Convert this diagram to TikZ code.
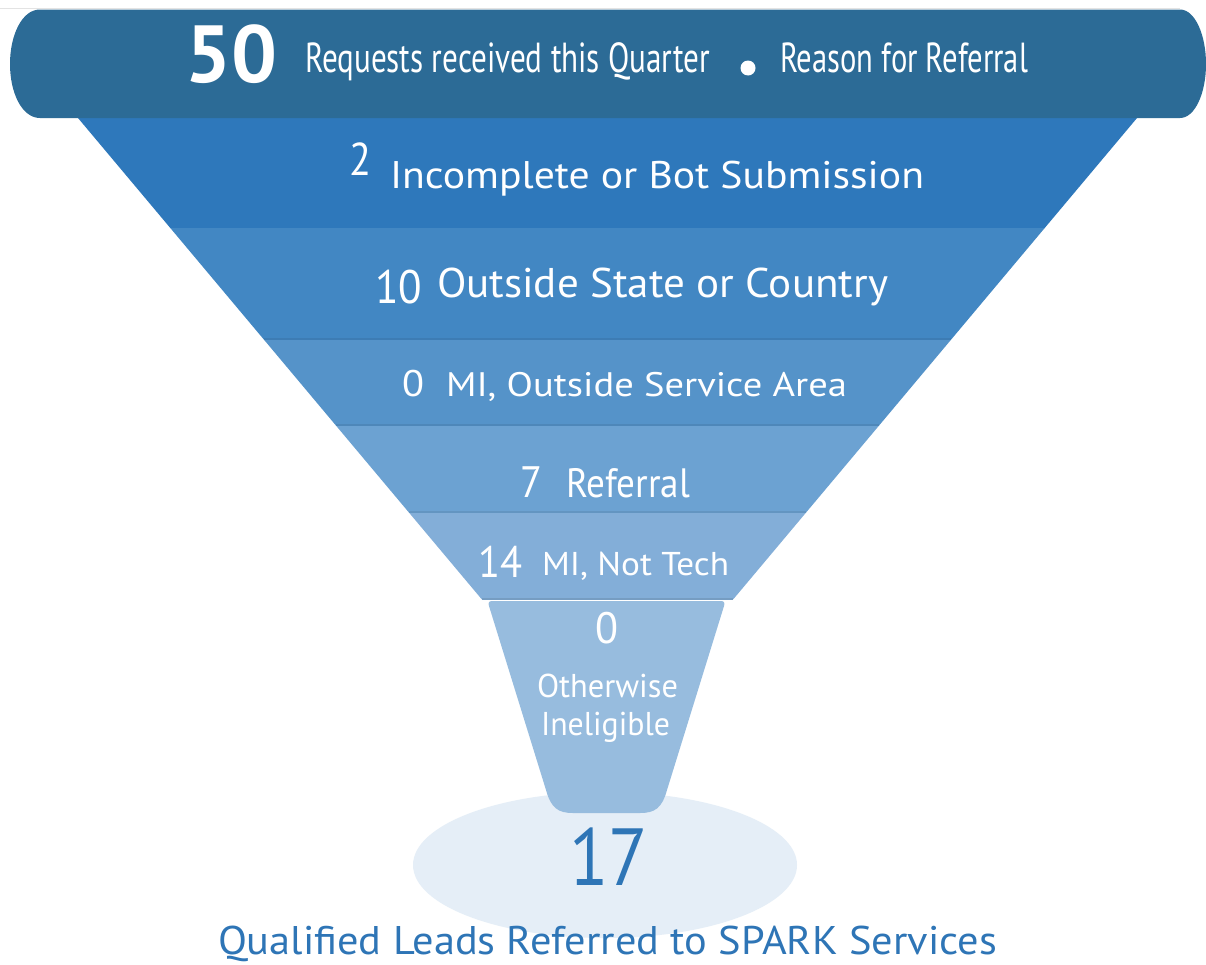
\documentclass[tikz,border=0pt]{standalone}
\usepackage{fontspec}
\setmainfont{PT Sans}
\usepackage{graphicx}
\definecolor{cbar}{HTML}{2C6B96}
\definecolor{cl1}{HTML}{2E78BB}
\definecolor{cl2}{HTML}{4287C3}
\definecolor{cl3}{HTML}{5593C9}
\definecolor{cl4}{HTML}{6CA2D2}
\definecolor{cl5}{HTML}{83AED8}
\definecolor{cneck}{HTML}{97BCDE}
\definecolor{cell}{HTML}{E5EEF7}
\definecolor{ctxt}{HTML}{2E75B6}
\newcommand{\fitw}[2]{\resizebox{#1}{\height}{#2}}
\newcommand{\fsz}[1]{\fontsize{#1}{#1}\selectfont}
\tikzset{
  lbl/.style={inner sep=0pt, outer sep=0pt, anchor=base west, text=white},
  sepline/.style={line width=1.2pt},
}
\begin{document}
\begin{tikzpicture}[x=1pt,y=-1pt]
\useasboundingbox (0,0) rectangle (1206,964);
\fill[white] (0,0) rectangle (1206,964);
% faint top line
\draw[gray!22, line width=0.8pt] (0,8) -- (1180,8);
% ellipse base
\fill[cell] (605,865) ellipse [x radius=192, y radius=73];
% funnel layers
\fill[cl1] (78,118) -- (1137,118) -- (1044.7,228) -- (170.3,228) -- cycle;
\fill[cl2] (170.3,228) -- (1044.7,228) -- (951.6,339) -- (263.4,339) -- cycle;
\fill[cl3] (263.4,339) -- (951.6,339) -- (879.5,425) -- (335.5,425) -- cycle;
\fill[cl4] (335.5,425) -- (879.5,425) -- (806.5,512) -- (408.5,512) -- cycle;
\fill[cl5] (408.5,512) -- (806.5,512) -- (733.5,599) -- (481.5,599) -- cycle;
\draw[sepline, cl2!92!black] (264,339) -- (951,339);
\draw[sepline, cl3!92!black] (336,425) -- (879,425);
\draw[sepline, cl4!92!black] (409,512) -- (806,512);
\draw[sepline, cl5!90!black] (482,599) -- (733,599);
% neck
\fill[cneck] (492,601) -- (721,601) .. controls (724,601) and (725,603) .. (724,606)
  -- (667,790) .. controls (662,808) and (655,813) .. (640,813) -- (573,813)
  .. controls (558,813) and (551,808) .. (546,790) -- (489,606)
  .. controls (488,603) and (489,601) .. (492,601) -- cycle;
% top bar
\fill[cbar] (40,9.5) -- (1180,9.5) .. controls (1195,9.5) and (1206,35) .. (1206,64)
  .. controls (1206,93) and (1195,118) .. (1180,118) -- (40,118)
  .. controls (22,118) and (10,93) .. (10,64) .. controls (10,35) and (22,9.5) .. (40,9.5) -- cycle;
% texts
\node[lbl, font=\bfseries\fsz{81}] (n50) at (185,82) {\fitw{92pt}{50}};
\node[lbl, font=\fsz{42}] (req) at (305,72) {\fitw{405pt}{Requests received this Quarter}};
\node[circle, fill=white, minimum size=15pt, inner sep=0pt] (dot) at (748,68) {};
\node[lbl, font=\fsz{42}] (reason) at (780,72) {\fitw{248pt}{Reason for Referral}};
\node[lbl, font=\fsz{46}] (v1) at (349,175) {\fitw{22pt}{2}};
\node[lbl, font=\fsz{38.5}] (t1) at (390,188) {\fitw{534pt}{Incomplete or Bot Submission}};
\node[lbl, font=\fsz{47}] (v2) at (375,303) {\fitw{47pt}{10}};
\node[lbl, font=\fsz{41.5}] (t2) at (437,297) {\fitw{451pt}{Outside State or Country}};
\node[lbl, font=\fsz{37}] (v3) at (402,396) {\fitw{22pt}{0}};
\node[lbl, font=\fsz{34}] (t3) at (446,396) {\fitw{401pt}{MI, Outside Service Area}};
\node[lbl, font=\fsz{44}] (v4) at (520,497) {\fitw{22pt}{7}};
\node[lbl, font=\fsz{41}] (t4) at (566,497) {\fitw{124pt}{Referral}};
\node[lbl, font=\fsz{44}] (v5) at (478,577) {\fitw{44pt}{14}};
\node[lbl, font=\fsz{33}] (t5) at (542,575) {\fitw{187pt}{MI, Not Tech}};
\node[lbl, font=\fsz{44}] (v6) at (595,643) {\fitw{23pt}{0}};
\node[lbl, anchor=base, font=\fsz{33}] (t6a) at (607.5,697) {\fitw{141pt}{Otherwise}};
\node[lbl, anchor=base, font=\fsz{33}] (t6b) at (605.5,735) {\fitw{129pt}{Ineligible}};
\node[lbl, text=ctxt, font=\fsz{81}] (n17) at (569,885) {\fitw{79pt}{17}};
\node[lbl, text=ctxt, font=\fsz{40}] (qual) at (218,954) {\fitw{779pt}{Qualified Leads Referred to SPARK Services}};
\end{tikzpicture}
\end{document}
